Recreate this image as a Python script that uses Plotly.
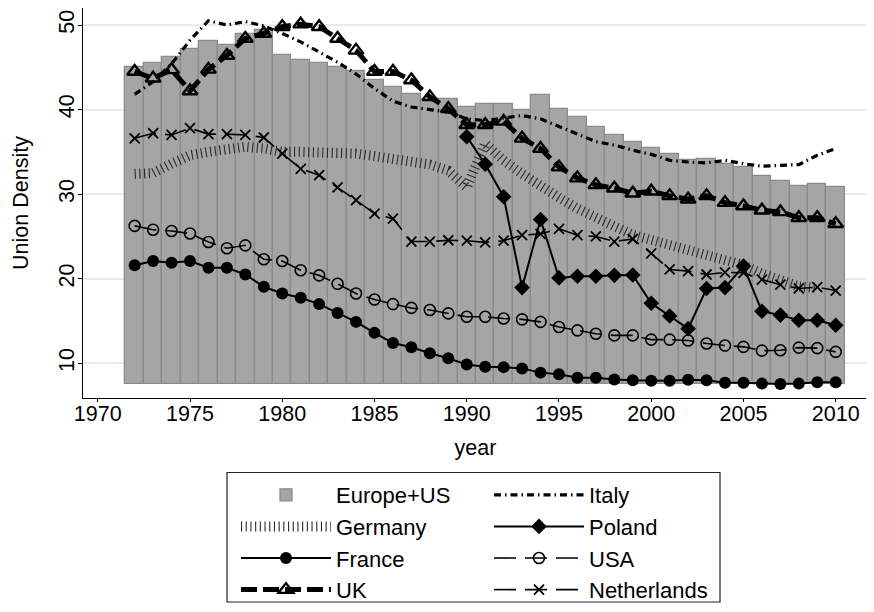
import plotly.graph_objects as go

# ---------------- data ----------------
years = list(range(1972, 2011))

europe_us = [45.0, 45.5, 46.2, 47.2, 48.1, 47.6, 48.9, 49.4, 46.5, 45.9, 45.5, 45.0,
             44.6, 43.5, 42.7, 41.9, 41.3, 41.2, 40.3, 40.7, 40.7, 40.0, 41.7, 40.1, 39.1, 38.0,
             37.0, 36.2, 35.4, 34.7, 34.0, 34.1, 33.6, 33.2, 32.1, 31.5, 31.0, 31.2, 30.8]

italy = [41.8, 43.3, 45.4, 48.2, 50.5, 50.0, 50.4, 49.9, 49.0, 48.0, 46.8, 45.6,
         44.2, 42.5, 41.0, 40.3, 40.0, 39.7, 38.9, 38.7, 39.0, 39.3, 38.9, 38.0, 37.0, 36.2,
         35.8, 35.2, 34.7, 34.0, 33.8, 33.7, 34.0, 33.6, 33.3, 33.4, 33.5, 34.6, 35.4]

germany = [32.4, 32.5, 33.6, 34.6, 35.0, 35.2, 35.6, 35.4, 35.0, 35.0, 35.0, 35.0,
           34.8, 34.5, 34.2, 33.9, 33.5, 32.8, 30.8, 36.0, 34.0, 32.4, 30.9, 29.6, 28.3, 27.1,
           26.2, 25.2, 24.6, 24.0, 23.6, 23.1, 22.4, 21.6, 20.6, 19.8, 19.1, 18.9, None]

france = [21.6, 22.1, 21.9, 22.1, 21.3, 21.3, 20.5, 19.05, 18.25, 17.75, 17.0, 15.95,
          14.9, 13.6, 12.4, 11.9, 11.2, 10.6, 9.85, 9.6, 9.55, 9.4, 8.9, 8.7, 8.3, 8.3,
          8.1, 8.0, 7.95, 7.95, 8.05, 8.0, 7.7, 7.7, 7.6, 7.55, 7.6, 7.75, 7.75]

uk = [44.5, 43.7, 44.7, 42.2, 44.75, 46.4, 48.4, 49.0, 49.8, 50.1, 49.8, 48.4,
      47.0, 44.5, 44.5, 43.5, 41.5, 40.1, 38.2, 38.2, 38.6, 36.6, 35.4, 33.2, 31.9, 31.1,
      30.7, 30.1, 30.35, 29.8, 29.4, 29.8, 29.0, 28.6, 28.1, 27.9, 27.2, 27.2, 26.5]

poland = [None] * 18 + [36.8, 33.55, 29.7, 18.95, 27.0, 20.1, 20.3, 20.3,
                        20.4, 20.45, 17.1, 15.6, 14.1, 18.85, 18.95, 21.5, 16.15, 15.7, 15.1, 15.1, 14.5]

usa = [26.25, 25.8, 25.65, 25.35, 24.35, 23.6, 23.95, 22.3, 22.1, 21.0, 20.4, 19.4,
       18.25, 17.55, 17.0, 16.55, 16.3, 15.9, 15.5, 15.5, 15.3, 15.2, 14.9, 14.3, 13.9, 13.5,
       13.3, 13.3, 12.8, 12.8, 12.7, 12.35, 12.1, 11.95, 11.5, 11.55, 11.85, 11.8, 11.35]

netherlands = [36.6, 37.2, 37.0, 37.8, 37.1, 37.1, 37.0, 36.7, 34.8, 33.0, 32.25, 30.8,
               29.3, 27.7, 27.1, 24.4, 24.4, 24.55, 24.5, 24.3, 24.5, 25.15, 25.3, 25.9, 25.15, 25.0,
               24.4, 24.7, 23.0, 21.1, 20.9, 20.5, 20.75, 20.7, 19.9, 19.3, 18.85, 19.0, 18.6]

x_ticks = [1970, 1975, 1980, 1985, 1990, 1995, 2000, 2005, 2010]
y_ticks = [10, 20, 30, 40, 50]

# ---------------- styling ----------------
FONT = "Liberation Sans"
BAR_BASE = 7.5
BAR_FILL = "#a4a5a5"
BAR_EDGE = "#8a8b8b"
X_RANGE = [1969.2, 2011.75]
Y_RANGE = [5.9, 52.01]

fig = go.Figure()

fig.add_trace(go.Bar(
    x=years, y=[v - BAR_BASE for v in europe_us], base=BAR_BASE, width=1.0,
    name="Europe+US", marker=dict(color=BAR_FILL, line=dict(color=BAR_EDGE, width=1.3)),
    legend="legend", legendrank=1, legendgroup="g1"))

fig.add_trace(go.Scatter(
    x=years, y=germany, mode="lines", name="Germany",
    line=dict(color="#2a2a2a", width=10, dash="1.1px,3.6px"),
    connectgaps=False, legend="legend", legendrank=2, legendgroup="g2"))

fig.add_trace(go.Scatter(
    x=years, y=italy, mode="lines", name="Italy",
    line=dict(color="black", width=3.2, dash="7px,4px,1.5px,4px"),
    legend="legend2", legendrank=1, legendgroup="h1"))

fig.add_trace(go.Scatter(
    x=years, y=usa, mode="lines+markers", name="USA",
    line=dict(color="black", width=1.6, dash="22px,9px"),
    marker=dict(symbol="circle-open", size=11, color="black", line=dict(width=1.6)),
    legend="legend2", legendrank=3, legendgroup="h3"))

fig.add_trace(go.Scatter(
    x=years, y=france, mode="lines+markers", name="France",
    line=dict(color="black", width=2),
    marker=dict(symbol="circle", size=12, color="black"),
    legend="legend", legendrank=3, legendgroup="g3"))

fig.add_trace(go.Scatter(
    x=years, y=netherlands, mode="lines+markers", name="Netherlands",
    line=dict(color="black", width=1.6, dash="22px,9px"),
    marker=dict(symbol="x-thin", size=10, color="black", line=dict(width=1.8, color="black")),
    legend="legend2", legendrank=4, legendgroup="h4"))

fig.add_trace(go.Scatter(
    x=years, y=poland, mode="lines+markers", name="Poland",
    line=dict(color="black", width=2),
    marker=dict(symbol="diamond", size=12, color="black"),
    connectgaps=False, legend="legend2", legendrank=2, legendgroup="h2"))

fig.add_trace(go.Scatter(
    x=years, y=uk, mode="lines+markers", name="UK",
    line=dict(color="black", width=5, dash="16px,6px"),
    marker=dict(symbol="triangle-up-open", size=13, color="black", line=dict(width=2.4)),
    legend="legend", legendrank=4, legendgroup="g4"))

# ---------------- layout ----------------
# the page body adds an 8px offset, so the figure is 8px smaller than the window
OFF = 8
W, H = 874 - OFF, 612 - OFF
ML, MR, MT, MB = 83 - OFF, 6, 0, 214
PW, PH = W - ML - MR, H - MT - MB


def px_to_paper_x(px):
    return (px - OFF - ML) / PW


def px_to_paper_y(py):
    return (H - MB - (py - OFF)) / PH


legend_common = dict(
    font=dict(family=FONT, size=22, color="black"),
    bgcolor="rgba(0,0,0,0)", borderwidth=0, orientation="v",
    xanchor="left", yanchor="top", itemwidth=90, tracegroupgap=0,
    traceorder="normal", valign="middle")

axis_font = dict(family=FONT, size=21.5, color="black")

fig.update_layout(
    width=W, height=H,
    margin=dict(l=ML, r=MR, t=MT, b=MB, pad=0, autoexpand=False),
    paper_bgcolor="white", plot_bgcolor="white",
    font=dict(family=FONT, size=21.5, color="black"),
    barmode="overlay", bargap=0,
    showlegend=True,
    legend=dict(x=px_to_paper_x(236), y=px_to_paper_y(474), **legend_common),
    legend2=dict(x=px_to_paper_x(489), y=px_to_paper_y(474), **legend_common),
    xaxis=dict(
        range=X_RANGE, tickvals=x_ticks, ticks="outside", ticklen=3, ticklabelstandoff=-7,
        tickwidth=1.2, tickcolor="black", showline=True, linecolor="black", linewidth=1.2,
        showgrid=False, zeroline=False, tickfont=axis_font,
        title=dict(text="year", font=axis_font, standoff=15)),
    yaxis=dict(
        range=Y_RANGE, tickvals=y_ticks, ticks="outside", ticklen=4, ticklabelstandoff=-5,
        tickwidth=1.2, tickcolor="black", tickangle=-90,
        showline=True, linecolor="black", linewidth=1.2,
        showgrid=True, gridcolor="#e4eded", gridwidth=1.5, zeroline=False,
        tickfont=axis_font,
        title=dict(text="Union Density", font=axis_font, standoff=20)),
    # tick-only overlay axes giving the longer tick marks
    xaxis2=dict(
        range=X_RANGE, tickvals=x_ticks, overlaying="x", anchor="y", side="bottom",
        ticks="outside", ticklen=9, tickwidth=1.2, tickcolor="black",
        showticklabels=False, showline=False, showgrid=False, zeroline=False),
    yaxis2=dict(
        range=Y_RANGE, tickvals=y_ticks, overlaying="y", anchor="x", side="left",
        ticks="outside", ticklen=9, tickwidth=1.2, tickcolor="black",
        showticklabels=False, showline=False, showgrid=False, zeroline=False),
    shapes=[dict(type="rect", xref="paper", yref="paper",
                 x0=px_to_paper_x(227), x1=px_to_paper_x(720),
                 y0=px_to_paper_y(602), y1=px_to_paper_y(472.5),
                 line=dict(color="#222222", width=1.2), fillcolor="rgba(0,0,0,0)", layer="above")],
)

fig.write_html("out.html")
